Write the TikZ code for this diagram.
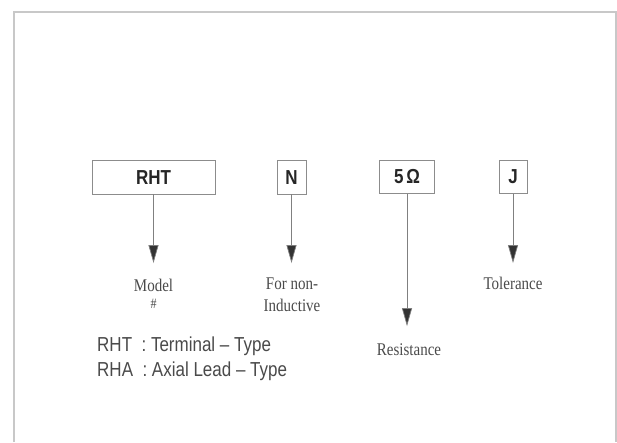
\documentclass[tikz,border=0pt]{standalone}
\usepackage{fontspec}
\setmainfont{Liberation Serif}
\newfontfamily\codefont{Liberation Sans}
\usetikzlibrary{arrows.meta}

\definecolor{framegray}{HTML}{C8C8C8}
\definecolor{inkgray}{HTML}{4A4A4A}

\tikzset{
  codebox/.style={draw=black!45,fill=white,line width=.8pt,inner sep=0pt,
    minimum height=28pt,transform shape,
    font=\codefont\fontsize{17}{17}\selectfont\bfseries,text=black!85},
  leadline/.style={draw=black!50,line width=.7pt,
    -{Triangle[width=10pt,length=18pt,fill=black!80]}},
  remark/.style={inner sep=0pt,align=center,text=inkgray,transform shape,
    font=\fontsize{15}{19}\selectfont}
}

\begin{document}
\begin{tikzpicture}[x=1pt,y=-1pt,yscale=1.19]
  \useasboundingbox (0,0) rectangle (617,371.43);
  % page frame
  \draw[framegray,line width=2pt] (13.5,371.43) -- (13.5,10.5) -- (616,10.5) -- (616,371.43);

  % code boxes
  \node[codebox,minimum width=123pt] (rht) at (153.5,149) {RHT};
  \node[codebox,minimum width=29pt]  (nind) at (291.5,149) {N};
  \node[codebox,minimum width=55pt]  (res) at (407,148.5) {5\,Ω};
  \node[codebox,minimum width=28pt]  (tol) at (513,148.5) {J};

  % arrow ends
  \coordinate (rhtend) at (153.5,221);
  \coordinate (nindend) at (291.5,221);
  \coordinate (resend) at (407,274);
  \coordinate (tolend) at (513,221);

  \draw[leadline] (rht) -- (rhtend);
  \draw[leadline] (nind) -- (nindend);
  \draw[leadline] (res) -- (resend);
  \draw[leadline] (tol) -- (tolend);

  % meanings
  \node[remark,anchor=north] (model) at (153.5,234) {Model\\[-4pt]{\fontsize{12}{12}\selectfont\#}};
  \node[remark,anchor=north] (noind) at (292,233) {For non-\\Inductive};
  \node[remark,anchor=north] (tolname) at (513,233) {Tolerance};
  \node[remark,anchor=north] (resname) at (409,289) {Resistance};

  % legend
  \node[inner sep=0pt,anchor=north west,align=left,text=inkgray,transform shape,
    font=\codefont\fontsize{17}{21}\selectfont] (legend) at (97,283)
    {RHT\ \ :\ Terminal – Type\\RHA\ \ :\ Axial Lead – Type};
\end{tikzpicture}
\end{document}
